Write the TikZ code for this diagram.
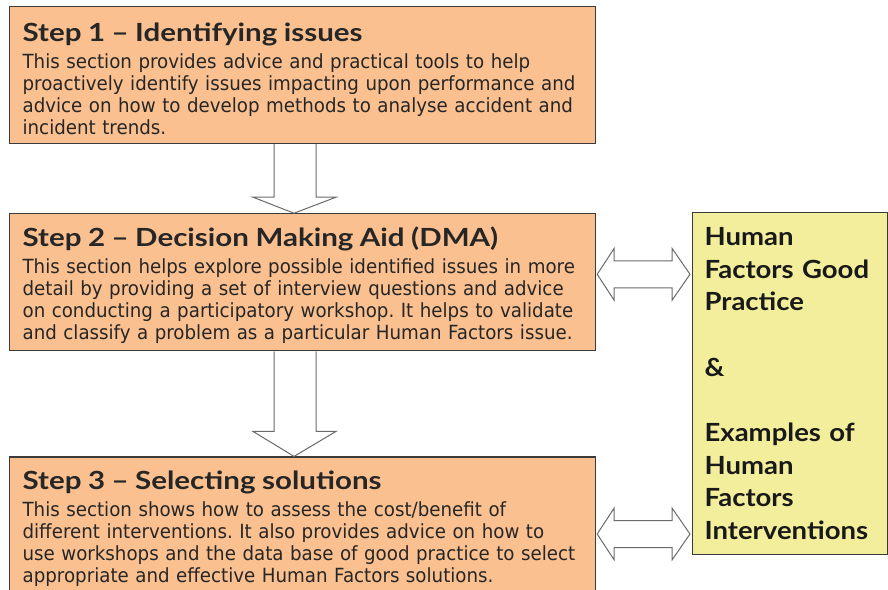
\documentclass[tikz,border=0pt]{standalone}
\usepackage{fontspec}
\usetikzlibrary{positioning,calc}
\newfontfamily\bodyfont{DejaVu Sans}[FakeStretch=0.935]
\newfontfamily\headfont{Lato}[FakeStretch=1.18]
\newfontfamily\notefont{Lato}[FakeStretch=1.10]
\definecolor{stepfill}{HTML}{FAC090}
\definecolor{notefill}{HTML}{F2EE9C}
\definecolor{edgegray}{HTML}{3A3A3A}
\definecolor{arrowgray}{HTML}{6A6A6A}
\frenchspacing
% the strut pushes the title a little further down the box
\newcommand\steptitle[1]{{\rule{0pt}{26pt}\headfont\bfseries\fontsize{25}{22}\selectfont #1}}
% hollow block arrow pointing down from #1 to #2, head length #3
\newcommand\dropArrow[3]{%
  \draw[hollow] let \p1=(#1), \p2=(#2) in
    (\x1-21pt,\y1) -- (\x1-21pt,\y2+#3pt) -- (\x1-42pt,\y2+#3pt) -- (\p2)
    -- (\x1+41pt,\y2+#3pt) -- (\x1+21pt,\y2+#3pt) -- (\x1+21pt,\y1);}
% hollow two-headed arrow between #1 and #2
\newcommand\twoWay[2]{%
  \draw[hollow] let \p1=(#1), \p2=(#2) in
    (\p1) -- (\x1+17pt,\y1+26pt) -- (\x1+17pt,\y1+13.5pt) -- (\x2-18pt,\y1+13.5pt)
    -- (\x2-18pt,\y1+26pt) -- (\p2) -- (\x2-18pt,\y1-26pt) -- (\x2-18pt,\y1-13.5pt)
    -- (\x1+17pt,\y1-13.5pt) -- (\x1+17pt,\y1-26pt) -- cycle;}
\tikzset{
  stepbox/.style={
    rectangle,
    draw=edgegray,
    fill=stepfill,
    line width=1.2pt,
    text width=560pt,
    minimum width=586pt,
    minimum height=137pt,
    inner xsep=13pt,
    inner ysep=0pt,
    align=left,
    text=black!85,
    font=\bodyfont\fontsize{19.5}{22}\selectfont
  },
  notebox/.style={
    rectangle,
    draw=edgegray,
    fill=notefill,
    line width=1.2pt,
    text width=171pt,
    minimum height=342pt,
    inner xsep=12pt,
    inner ysep=0pt,
    align=left,
    text=black!90,
    font=\notefont\bfseries\fontsize{25}{32.7}\selectfont
  },
  hollow/.style={draw=arrowgray, fill=white, line width=1pt, line join=miter}
}

\begin{document}
\begin{tikzpicture}[x=1pt, y=-1pt, node distance=69pt]
  \clip (0,0) rectangle (888,589);
  \fill[white] (0,0) rectangle (888,589);

  \node[stepbox, anchor=north west] (step1) at (9,6)
    {\steptitle{Step 1 – Identifying issues}\\[5pt]
     This section provides advice and practical tools to help\\
     proactively identify issues impacting upon performance and\\
     advice on how to develop methods to analyse accident and\\
     incident trends.};
  \node[stepbox, below=of step1] (step2)
    {\steptitle{Step 2 – Decision Making Aid (DMA)}\\[5pt]
     This section helps explore possible identified issues in more\\
     detail by providing a set of interview questions and advice\\
     on conducting a participatory workshop. It helps to validate\\
     and classify a problem as a particular Human Factors issue.};
  \node[stepbox, below=105pt of step2] (step3)
    {\steptitle{Step 3 – Selecting solutions}\\[5pt]
     This section shows how to assess the cost/benefit of\\
     different interventions. It also provides advice on how to\\
     use workshops and the data base of good practice to select\\
     appropriate and effective Human Factors solutions.};

  \node[notebox, anchor=north west] (practice) at (692,212)
    {Human\\Factors Good\\Practice\\\mbox{}\\\&\\\mbox{}\\Examples of\\Human\\Factors\\Interventions};

  % flow between the steps
  \coordinate (drop1) at ($(step1.south west)+(286,0)$);
  \coordinate (land1) at ($(step2.north west)+(285,0)$);
  \coordinate (drop2) at ($(step2.south west)+(286,0)$);
  \coordinate (land2) at ($(step3.north west)+(285,0)$);
  \dropArrow{drop1}{land1}{16}
  \dropArrow{drop2}{land2}{25}

  % links to the good practice box
  \coordinate (link2) at ($(step2.east)+(1,-8)$);
  \coordinate (link3) at ($(step3.east)+(1,8.5)$);
  \twoWay{link2}{$(practice.west |- link2)+(-2,0)$}
  \twoWay{link3}{$(practice.west |- link3)+(-2,0)$}
\end{tikzpicture}
\end{document}
